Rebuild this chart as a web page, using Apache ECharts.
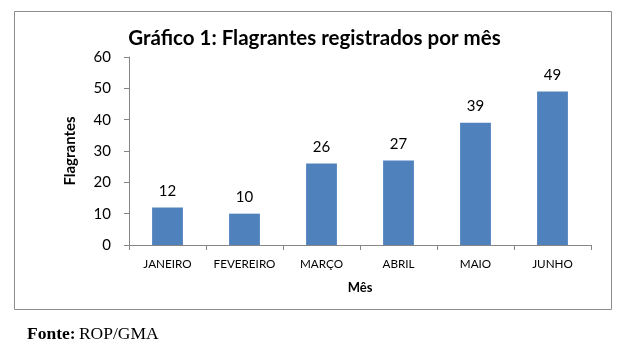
<!DOCTYPE html>
<html><head><meta charset="utf-8">
<script src="https://cdn.jsdelivr.net/npm/echarts@6/dist/echarts.min.js"></script>
<style>html,body{margin:0;padding:0;background:#fff}#c{width:629px;height:358px}</style>
</head><body><div id="c"></div>
<script>
const categories = ["JANEIRO","FEVEREIRO","MARÇO","ABRIL","MAIO","JUNHO"];
const values = [12,10,26,27,39,49];
const titleText = "Gráfico 1: Flagrantes registrados por mês";
const xName = "Mês";
const yName = "Flagrantes";
const sourceText = "ROP/GMA";

const chart = echarts.init(document.getElementById('c'), null, {renderer:'canvas'});
const F = 'Lato, "Open Sans", sans-serif';
chart.setOption({
  animation:false,
  title:{text:titleText,left:'center',top:23,textStyle:{fontFamily:F,fontSize:20.5,fontWeight:'bold',color:'#000'}},
  grid:{left:129,right:38,top:57,bottom:113},
  xAxis:{type:'category',data:categories,name:xName,nameLocation:'middle',nameGap:36,
    nameTextStyle:{fontFamily:F,fontSize:13,fontWeight:'bold',color:'#000'},
    axisLine:{lineStyle:{color:'#868686',width:1}},
    axisTick:{show:true,length:5,interval:0,lineStyle:{color:'#868686'}},
    axisLabel:{interval:0,hideOverlap:false,fontFamily:F,fontSize:11.7,color:'#000',margin:13}},
  yAxis:{type:'value',min:0,max:60,interval:10,name:yName,nameLocation:'middle',nameGap:51,
    nameTextStyle:{fontFamily:F,fontSize:15,fontWeight:'bold',color:'#000'},
    axisLine:{show:true,lineStyle:{color:'#868686',width:1}},
    axisTick:{show:true,length:5,lineStyle:{color:'#868686'}},
    splitLine:{show:false},
    axisLabel:{fontFamily:F,fontSize:15,color:'#000',margin:18}},
  series:[{type:'bar',data:values,barCategoryGap:'60%',itemStyle:{color:'#4F81BD'},
    label:{show:true,position:'top',distance:9,fontFamily:F,fontSize:15,color:'#000'}}],
  graphic:[
    {type:'rect',shape:{x:14.5,y:11.5,width:597,height:298},style:{fill:null,stroke:'#8c8c8c',lineWidth:1},z:-1},
    {type:'text',left:27,top:325,style:{rich:{b:{fontFamily:'"Liberation Serif", serif',fontSize:17.5,fontWeight:'bold',fill:'#000'},n:{fontFamily:'"Liberation Serif", serif',fontSize:17.5,fill:'#000'}},text:'{b|Fonte:} {n|'+sourceText+'}'}}
  ]
});
</script></body></html>
